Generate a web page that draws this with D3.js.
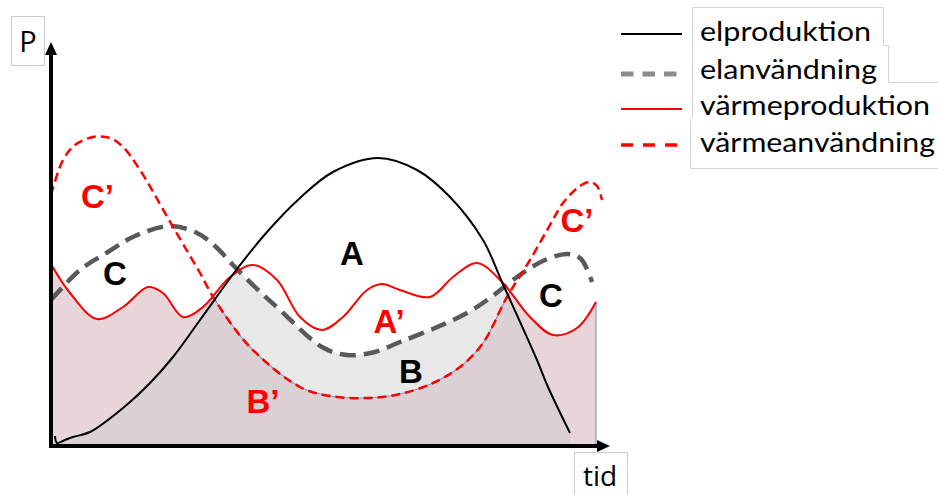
<!DOCTYPE html>
<html>
<head>
<meta charset="utf-8">
<script src="https://cdn.jsdelivr.net/npm/d3@7"></script>
<style>
  body { margin: 0; background: #fff; }
  svg { display: block; }
</style>
</head>
<body>
<svg width="938" height="495"></svg>
<script>
// curves, as [tid, P]
const elproduktion = [
    [0.8, 2.5], [1.2, 0.75], [2.8, 1.5], [4.4, 2.25], [7.8, 3.5], [14.4, 9.5], [19.8, 15.75],
    [24.4, 22.25], [29.8, 31.5], [37.2, 44.25], [43.2, 53.5], [49.8, 62], [56.4, 68.5],
    [65.4, 72], [73.2, 69], [79.8, 62.25], [86.4, 51.5], [90.2, 41], [97.2, 21.5],
    [99.4, 14.75], [103.8, 3.25]
];
const elanvandning = [
    [0, 36.5], [5.8, 44], [11.4, 48.5], [16.8, 52.5], [23.8, 55], [29.2, 53.25], [32.8, 50],
    [36.4, 45.25], [40.8, 39.75], [45.8, 34], [54.2, 24.75], [59.2, 22.75], [64.8, 23.5],
    [69.8, 26], [76.8, 29.5], [83.2, 33.25], [87.8, 37], [93.2, 42.25], [98.8, 46.5],
    [103.4, 48], [106, 46.75], [108.2, 41]
];
const varmeproduktion = [
    [0, 45.5], [3.8, 38.25], [9.2, 31.75], [14.4, 34.75], [19.4, 39.75], [22.4, 38.25],
    [26.4, 32.25], [30.4, 34.75], [35.8, 42.25], [40.4, 45.25], [45.2, 41.5], [49.8, 32.25],
    [54.2, 29], [58.4, 32.25], [63.2, 39], [66.2, 40.5], [69.8, 39], [75.8, 37.25],
    [80.4, 42.25], [85.2, 45.75], [90.2, 41], [95.8, 32.25], [100.4, 27.75], [105.2, 29.5],
    [109, 36]
];
const varmeanvandning = [
    [0, 62.75], [2.4, 71.5], [4.8, 75.25], [8.4, 77.25], [11.8, 77], [14.4, 74.75],
    [17.8, 69], [24.4, 54.75], [29.8, 43.25], [32.8, 36.5], [39.8, 24.75], [49.8, 14.75],
    [55.8, 12.5], [63.2, 12], [69.8, 13], [76.4, 15.75], [81.8, 19.75], [86.4, 25.75],
    [91.2, 37.25], [95.8, 46.5], [99.8, 55.25], [102.4, 60.75], [105.8, 65], [107.8, 66],
    [109.2, 65], [110.2, 61.5]
];

const legendLabels = ["elproduktion", "elanvändning", "värmeproduktion", "värmeanvändning"];
const regionNames = ["C’", "C", "A", "A’", "B", "B’", "C", "C’"];
const regionAt = [[9.3, 59.5], [12.8, 40.25], [60.2, 45.25], [67.6, 28.25], [72, 15.75], [42.4, 8.25], [100, 34.75], [105.2, 53.5]];
const regionRed = [true, false, false, true, false, true, false, true];

const svg = d3.select("svg");
const x = d3.scaleLinear().domain([0, 110]).range([51, 601]);
const y = d3.scaleLinear().domain([0, 98.5]).range([446, 52]);
const curve = d3.curveCatmullRom.alpha(0.5);

const line = d3.line().x(d => x(d[0])).y(d => y(d[1])).curve(curve);
const below = d3.area().x(d => x(d[0])).y0(y(0)).y1(d => y(d[1])).curve(curve);

const defs = svg.append("defs");
function clip(id, data) {
    defs.append("clipPath").attr("id", id).append("path").attr("d", below(data));
}
clip("underVarmeAnv", varmeanvandning);
clip("underVarmeProd", varmeproduktion);
clip("underElAnv", elanvandning);

// heat covered (pink) and electricity covered (gray) regions
svg.append("path")
    .attr("d", below(varmeproduktion))
    .attr("clip-path", "url(#underVarmeAnv)")
    .attr("fill", "#e8d5da");
svg.append("path")
    .attr("d", below(elproduktion))
    .attr("clip-path", "url(#underElAnv)")
    .attr("fill", "#cccccc")
    .attr("fill-opacity", 0.45);

// thin outline of the pink shape
svg.append("path")
    .attr("d", below(varmeproduktion))
    .attr("clip-path", "url(#underVarmeAnv)")
    .attr("fill", "none").attr("stroke", "#7f9bd0").attr("stroke-width", 1.2);
svg.append("path")
    .attr("d", below(varmeanvandning))
    .attr("clip-path", "url(#underVarmeProd)")
    .attr("fill", "none").attr("stroke", "#7f9bd0").attr("stroke-width", 1.2);

const styles = [
    { stroke: "#000", width: 2, dash: null, legendStroke: "#000", legendWidth: 2, legendDash: null },
    { stroke: "#595959", width: 4.5, dash: "16,8", legendStroke: "#8c8c8c", legendWidth: 5, legendDash: "12.5,9" },
    { stroke: "#ff0000", width: 2, dash: null, legendStroke: "#ff0000", legendWidth: 2, legendDash: null },
    { stroke: "#ff0000", width: 2.5, dash: "9,5", legendStroke: "#ff0000", legendWidth: 3.5, legendDash: "12,10" }
];
const series = [elproduktion, elanvandning, varmeproduktion, varmeanvandning];

[1, 3, 2, 0].forEach(i => {
    svg.append("path")
        .attr("d", line(series[i]))
        .attr("fill", "none")
        .attr("stroke", styles[i].stroke)
        .attr("stroke-width", styles[i].width)
        .attr("stroke-dasharray", styles[i].dash);
});

// region letters
svg.selectAll(".region")
    .data(regionNames)
    .join("text")
    .attr("class", "region")
    .attr("x", (d, i) => x(regionAt[i][0]))
    .attr("y", (d, i) => y(regionAt[i][1]))
    .attr("text-anchor", "middle")
    .attr("font-family", "Liberation Sans, Arial, sans-serif")
    .attr("font-weight", "bold")
    .attr("font-size", 33)
    .attr("fill", (d, i) => regionRed[i] ? "#ff0000" : "#000")
    .text(d => d);

// axes, no ticks, thick domain lines
const xAxis = svg.append("g")
    .attr("transform", `translate(0,${y(0)})`)
    .call(d3.axisBottom(x).ticks(0).tickSizeOuter(0));
const yAxis = svg.append("g")
    .attr("transform", `translate(${x(0)},0)`)
    .call(d3.axisLeft(y).ticks(0).tickSizeOuter(0));
[xAxis, yAxis].forEach(g => {
    g.select(".domain")
        .attr("stroke", "#000")
        .attr("stroke-width", 4)
        .attr("stroke-linecap", "square");
});
yAxis.select(".domain").attr("d", `M0,${y(0)}V${y.range()[1]}`);
xAxis.select(".domain").attr("d", `M${x(0)},0H${x.range()[1] - 3}`);

// arrow heads at the far ends
const xEnd = x.range()[1], yEnd = y.range()[1];
svg.append("path")
    .attr("d", `M${xEnd - 4},${y(0) - 6}L${xEnd + 9},${y(0)}L${xEnd - 4},${y(0) + 6}Z`)
    .attr("fill", "#000");
svg.append("path")
    .attr("d", `M${x(0) - 6},${yEnd + 3}L${x(0)},${yEnd - 10}L${x(0) + 6},${yEnd + 3}Z`)
    .attr("fill", "#000");

// axis titles in little boxes
svg.append("rect").attr("x", 11.5).attr("y", 16.5).attr("width", 33).attr("height", 49)
    .attr("fill", "#fff").attr("stroke", "#cccccc");
svg.append("text").attr("x", 28).attr("y", 52).attr("text-anchor", "middle")
    .attr("font-family", "Open Sans, sans-serif").attr("font-size", 29).text("P");
svg.append("rect").attr("x", 574.5).attr("y", 452.5).attr("width", 53).attr("height", 50)
    .attr("fill", "#fff").attr("stroke", "#cccccc");
svg.append("text").attr("x", 600).attr("y", 486).attr("text-anchor", "middle")
    .attr("font-family", "Open Sans, sans-serif").attr("font-size", 28).text("tid");

// legend
const legendY = [34, 74, 109, 145];
const legendBase = [41, 79, 115, 152];
const legendWidth = [171, 177, 230, 235];
const legend = svg.append("g");
legend.append("path")
    .attr("d", "M692.5,118V7.5H883.5V45.5H888.5V82.5H938 M690.5,120.5V168.5H938")
    .attr("fill", "none").attr("stroke", "#d4d4d4");
legendLabels.forEach((name, i) => {
    legend.append("line")
        .attr("x1", 621).attr("x2", 682)
        .attr("y1", legendY[i]).attr("y2", legendY[i])
        .attr("stroke", styles[i].legendStroke)
        .attr("stroke-width", styles[i].legendWidth)
        .attr("stroke-dasharray", styles[i].legendDash);
    legend.append("text")
        .attr("x", 700).attr("y", legendBase[i])
        .attr("font-family", "Lato, sans-serif")
        .attr("font-size", 27)
        .attr("textLength", legendWidth[i])
        .attr("lengthAdjust", "spacingAndGlyphs")
        .text(name);
});
</script>
</body>
</html>
